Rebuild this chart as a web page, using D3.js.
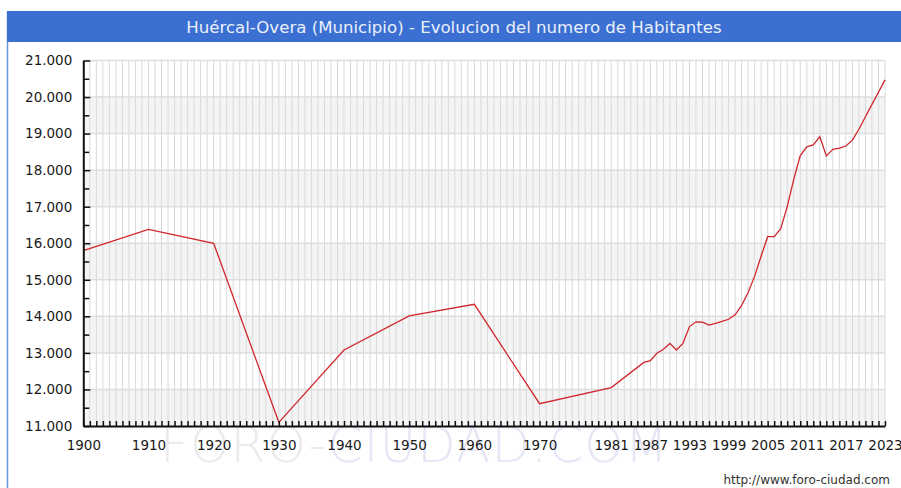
<!DOCTYPE html>
<html>
<head>
<meta charset="utf-8">
<script src="https://cdn.jsdelivr.net/npm/d3@7"></script>
<style>
body{margin:0;background:#fff;}
svg text{font-family:"DejaVu Sans",Verdana,sans-serif;}
</style>
</head>
<body>
<div id="chart"></div>
<script>
// census / padron years and inhabitants
var years = [1900,1910,1920,1930,1940,1950,1960,1970,1981,1986,1987,1988,1989,1990,1991,1992,1993,1994,1995,1996,1997,1998,1999,2000,2001,2002,2003,2004,2005,2006,2007,2008,2009,2010,2011,2012,2013,2014,2015,2016,2017,2018,2019,2020,2021,2022,2023];
var habitantes = [15800,16380,16000,11100,13080,14010,14330,11610,12050,12740,12790,12990,13100,13260,13080,13260,13720,13850,13840,13760,13810,13860,13920,14040,14300,14650,15100,15650,16180,16180,16400,17000,17750,18400,18640,18690,18915,18390,18570,18600,18660,18820,19120,19460,19800,20130,20470];
var xLabelYears = [1900,1910,1920,1930,1940,1950,1960,1970,1981,1987,1993,1999,2005,2011,2017,2023];
var yTicks = [11000,12000,13000,14000,15000,16000,17000,18000,19000,20000,21000];
var titulo = "Huércal-Overa (Municipio) - Evolucion del numero de Habitantes";

function drawChart(){
	var W=901,H=488;
	var pLeft=83.3,pRight=885,pTop=60.5,pBottom=426;

	var svg=d3.select("#chart").append("svg")
		.attr("width",W).attr("height",H);
	svg.append("rect").attr("width",W).attr("height",H).attr("fill","#fff");

	//frame + title bar
	svg.append("line").attr("x1",7.5).attr("x2",7.5).attr("y1",11).attr("y2",H)
		.attr("stroke","#6b96dc").attr("stroke-width",1.5);
	svg.append("rect").attr("x",7).attr("y",11).attr("width",W-7).attr("height",31).attr("fill","#3b6fd1");
	svg.append("text").attr("x",454).attr("y",33).attr("text-anchor","middle")
		.attr("font-size","16.6px").attr("fill","#eaf0fa").text(titulo);

	var x=d3.scaleLinear().domain([1900,2023]).range([pLeft,pRight]);
	var y=d3.scaleLinear().domain([11000,21000]).range([pBottom,pTop]);
	var es=d3.formatLocale({decimal:",",thousands:".",grouping:[3],currency:["","€"]});
	var fmt=es.format(",");

	//watermark
	var wm=svg.append("text").attr("x",160).attr("y",462).attr("font-weight",200)
		.attr("font-size","50px").attr("textLength",508).attr("lengthAdjust","spacing");
	wm.append("tspan").attr("fill","#ebebeb").text("FORO-");
	wm.append("tspan").attr("fill","#e6e6f6").text("CIUDAD.COM");

	//alternating bands
	var g=svg.append("g");
	g.selectAll("rect.band").data(yTicks.filter(function(d,i){return i%2==0 && d<21000;}))
		.enter().append("rect").attr("class","band")
		.attr("x",pLeft).attr("width",pRight-pLeft)
		.attr("y",function(d){return y(d+1000);})
		.attr("height",function(d){return y(d)-y(d+1000);})
		.attr("fill","#f4f4f4");
	//vertical grid every year
	g.selectAll("line.vg").data(d3.range(1901,2024))
		.enter().append("line").attr("class","vg")
		.attr("x1",function(d){return x(d);}).attr("x2",function(d){return x(d);})
		.attr("y1",pTop).attr("y2",pBottom)
		.attr("stroke","#d9d9d9").attr("stroke-width",1);
	//horizontal grid
	g.selectAll("line.hg").data(yTicks.slice(1))
		.enter().append("line").attr("class","hg")
		.attr("x1",pLeft).attr("x2",pRight)
		.attr("y1",function(d){return y(d);}).attr("y2",function(d){return y(d);})
		.attr("stroke","#dddddd").attr("stroke-width",1.5);

	//the series
	var line=d3.line().x(function(d,i){return x(years[i]);}).y(function(d){return y(d);});
	svg.append("path").datum(habitantes)
		.attr("d",line).attr("fill","none")
		.attr("stroke","#d0262b").attr("stroke-width",1.3);

	//y axis (ticks inward)
	svg.append("g").attr("transform","translate("+pLeft+",0)")
		.call(d3.axisLeft(y).tickValues(yTicks).tickSizeInner(-7).tickSizeOuter(0).tickPadding(11).tickFormat(fmt));
	svg.append("g").attr("transform","translate("+pLeft+",0)")
		.call(d3.axisLeft(y).tickValues(d3.range(11500,21000,1000)).tickSizeInner(-6).tickSizeOuter(0).tickFormat(""))
		.select(".domain").remove();
	//x axis : a tick each year, labels on some years
	svg.append("g").attr("transform","translate(0,"+pBottom+")")
		.call(d3.axisBottom(x).tickValues(d3.range(1900,2024)).tickSizeInner(-5).tickSizeOuter(0).tickFormat(""));
	svg.append("g").attr("transform","translate(0,"+pBottom+")")
		.call(d3.axisBottom(x).tickValues(xLabelYears).tickSize(0).tickPadding(14).tickFormat(d3.format("d")))
		.select(".domain").remove();

	svg.selectAll(".domain").attr("stroke","#111").attr("stroke-width",2);
	svg.selectAll(".tick line").attr("stroke","#111").attr("stroke-width",1.5);
	svg.selectAll(".tick text").attr("font-size","13.5px").attr("fill","#1a1a1a").attr("font-family","'DejaVu Sans',Verdana,sans-serif");

	svg.append("text").attr("x",890).attr("y",484).attr("text-anchor","end")
		.attr("font-size","12px").attr("fill","#333").text("http://www.foro-ciudad.com");
}
drawChart();
</script>
</body>
</html>
